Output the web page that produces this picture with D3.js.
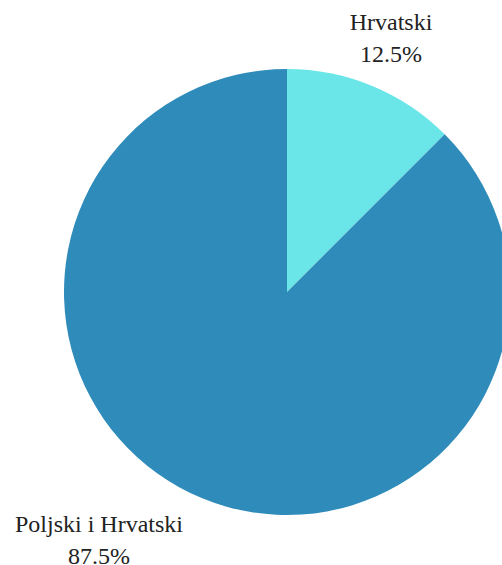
<!DOCTYPE html>
<html><head><meta charset="utf-8">
<script src="https://cdn.jsdelivr.net/npm/d3@7"></script>
<style>html,body{margin:0;padding:0;background:#fff;overflow:hidden}</style>
</head><body>
<svg id="c" width="502" height="565"></svg>
<script>
const categories = ["Hrvatski", "Poljski i Hrvatski"];
const values = [12.5, 87.5];
const colors = ["#6ae6e8", "#2e8bba"];

const svg = d3.select("#c");
const cx = 287, cy = 292, r = 223;
const g = svg.append("g").attr("transform", `translate(${cx},${cy})`);
const pie = d3.pie().sort(null).value(d => d)(values);
const arc = d3.arc().innerRadius(0).outerRadius(r);
g.selectAll("path").data(pie).enter().append("path")
  .attr("d", arc).attr("fill", (d,i) => colors[i]);

const labelPos = [[391, 30], [99, 532]];
pie.forEach((d,i) => {
  const t = svg.append("text").attr("x", labelPos[i][0]).attr("y", labelPos[i][1])
    .attr("text-anchor", "middle").attr("font-family", "Liberation Serif")
    .attr("font-size", 24).attr("fill", "#222");
  t.append("tspan").attr("x", labelPos[i][0]).text(categories[i]);
  t.append("tspan").attr("x", labelPos[i][0]).attr("dy", 32).text(values[i] + "%");
});
</script>
</body></html>
